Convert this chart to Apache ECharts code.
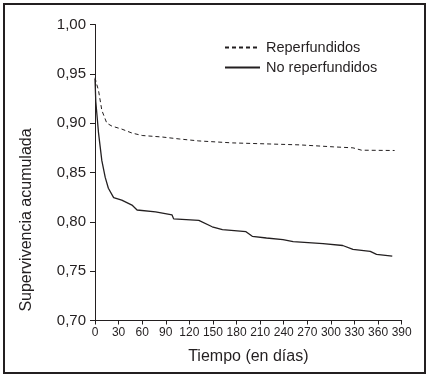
<!DOCTYPE html>
<html>
<head>
<meta charset="utf-8">
<script src="https://cdn.jsdelivr.net/npm/echarts@6/dist/echarts.min.js"></script>
<style>
  html, body { margin: 0; padding: 0; background: #fff; }
  #chart { width: 429px; height: 379px; }
</style>
</head>
<body>
<div id="chart"></div>
<script>
// 数据：Kaplan-Meier 累积生存曲线 (días, supervivencia)
var seriesNames = ["Reperfundidos", "No reperfundidos"];
var xTicks = [0, 30, 60, 90, 120, 150, 180, 210, 240, 270, 300, 330, 360, 390];
var yTicks = [0.70, 0.75, 0.80, 0.85, 0.90, 0.95, 1.00];

var reperDays = [0, 2, 4.5, 8.7, 15, 21.5, 34, 47, 60, 85, 107, 132, 175, 218, 260, 303, 328, 339, 381];
var reperVals = [0.946, 0.940, 0.933, 0.913, 0.900, 0.897, 0.894, 0.890, 0.8875, 0.886, 0.884, 0.882, 0.880, 0.879, 0.878, 0.876, 0.875, 0.8726, 0.8723];

var noReperDays = [0, 1, 2.3, 4.5, 6.6, 8.7, 13, 17, 23.7, 34, 47, 53.5, 77, 98, 100, 132, 149, 162, 192, 200, 218, 239, 252, 290, 315, 328, 350, 358, 378];
var noReperVals = [0.945, 0.922, 0.910, 0.890, 0.876, 0.862, 0.845, 0.834, 0.8246, 0.822, 0.817, 0.812, 0.810, 0.807, 0.803, 0.8015, 0.795, 0.792, 0.790, 0.7853, 0.7836, 0.782, 0.780, 0.778, 0.776, 0.772, 0.770, 0.767, 0.7653];

function pairs(xs, ys) {
    var out = [];
    for (var i = 0; i < xs.length; i++) {
        out.push([xs[i], ys[i]]);
    }
    return out;
}

var FONT = "Liberation Sans, Arial, sans-serif";
var INK = "#231f20";

var chart = echarts.init(document.getElementById("chart"), null, {renderer: "canvas"});

chart.setOption({
    animation: false,
    backgroundColor: "#fff",
    grid: {left: 95, right: 27.3, top: 24.5, bottom: 58.5},
    legend: {
        orient: "vertical",
        left: 219,
        top: 35,
        itemWidth: 35,
        itemHeight: 12,
        itemGap: 5,
        itemStyle: {opacity: 0},
        textStyle: {fontFamily: FONT, fontSize: 14.5, color: INK, padding: [0, 0, 0, 1]},
        data: seriesNames
    },
    xAxis: {
        type: "value",
        min: 0,
        max: 390,
        interval: 30,
        axisLine: {lineStyle: {color: INK, width: 1}},
        axisTick: {length: 4, lineStyle: {color: INK}},
        axisLabel: {
            fontFamily: FONT, fontSize: 12, color: INK, margin: 6,
            formatter: function(v) { return xTicks.indexOf(v) >= 0 ? String(v) : ""; }
        },
        splitLine: {show: false},
        name: "Tiempo (en días)",
        nameLocation: "middle",
        nameGap: 28,
        nameTextStyle: {fontFamily: FONT, fontSize: 16, color: INK}
    },
    yAxis: {
        type: "value",
        min: 0.70,
        max: 1.00,
        interval: 0.05,
        axisLine: {show: true, lineStyle: {color: INK, width: 1}},
        axisTick: {show: true, length: 5, lineStyle: {color: INK}},
        axisLabel: {
            fontFamily: FONT, fontSize: 15, color: INK, margin: 9,
            formatter: function(v) { return v.toFixed(2).replace(".", ","); }
        },
        splitLine: {show: false}
    },
    graphic: [
        {
            type: "rect",
            shape: {x: 4, y: 4, width: 421, height: 369},
            style: {fill: "none", stroke: INK, lineWidth: 2},
            silent: true
        },
        {
            type: "text",
            x: 27,
            y: 220,
            rotation: Math.PI / 2,
            style: {
                text: "Supervivencia acumulada",
                fontFamily: FONT,
                fontSize: 16,
                fill: INK,
                align: "center",
                verticalAlign: "middle"
            },
            silent: true
        }
    ],
    series: [
        {
            name: seriesNames[0],
            type: "line",
            symbol: "none",
            color: INK,
            lineStyle: {color: INK, width: 1, type: [4, 3]},
            data: pairs(reperDays, reperVals)
        },
        {
            name: seriesNames[1],
            type: "line",
            symbol: "none",
            color: INK,
            lineStyle: {color: INK, width: 1.3, type: "solid"},
            data: pairs(noReperDays, noReperVals)
        }
    ]
});
</script>
</body>
</html>
